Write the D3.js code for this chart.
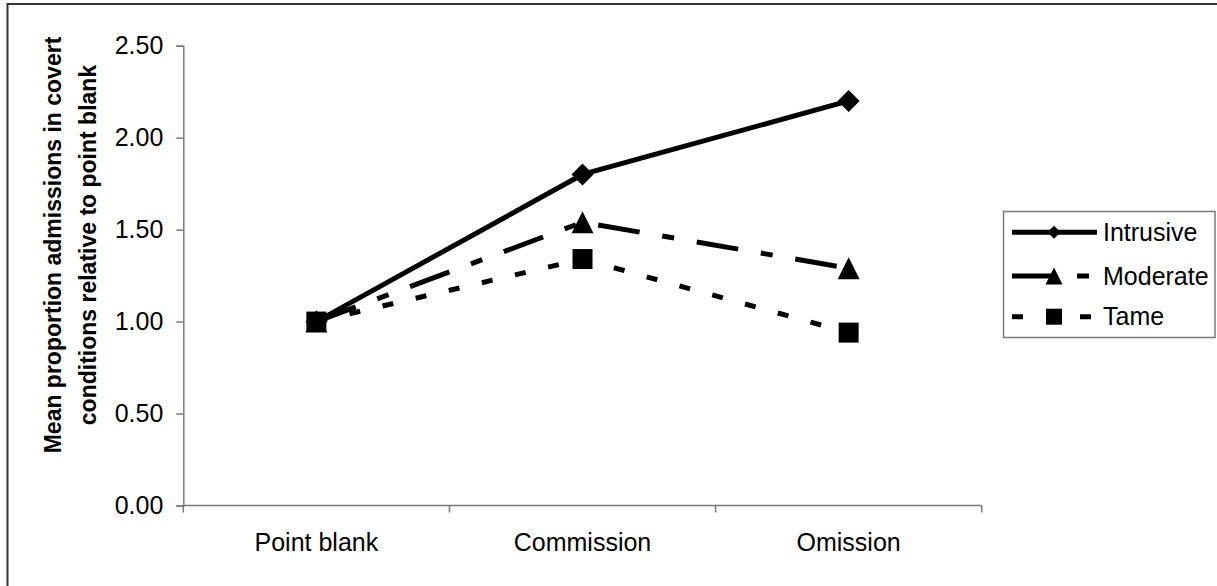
<!DOCTYPE html>
<html>
<head>
<meta charset="utf-8">
<script src="https://cdn.jsdelivr.net/npm/d3@7"></script>
<style>
  body { margin: 0; background: #fff; }
  svg text { font-family: "Liberation Sans", Arial, sans-serif; fill: #000; }
</style>
</head>
<body>
<svg id="chart" width="1217" height="586"></svg>
<script>
// Categories on the x axis
const categories = ["Point blank", "Commission", "Omission"];
// Series values (mean proportion of admissions, relative to point blank)
const intrusive = [1.00, 1.80, 2.20];
const moderate  = [1.00, 1.54, 1.29];
const tame      = [1.00, 1.34, 0.94];
const seriesNames = ["Intrusive", "Moderate", "Tame"];
// Y axis tick values
const yTicks = [0, 0.5, 1.0, 1.5, 2.0, 2.5];
const yTitleLines = ["Mean proportion admissions in covert", "conditions relative to point blank"];

const series = [
  { name: seriesNames[0], values: intrusive, dash: null,          marker: "diamond",  size: 22, legendSize: 13 },
  { name: seriesNames[1], values: moderate,  dash: "42 23 12 23", marker: "triangle", size: 22, legendSize: 17 },
  { name: seriesNames[2], values: tame,      dash: "11 23",       marker: "square",   size: 20, legendSize: 16 }
];

const svg = d3.select("#chart");
const plot = { left: 183.3, right: 981.7, top: 45.7, bottom: 505.5 };

const x = d3.scaleBand().domain(categories).range([plot.left, plot.right]).padding(0);
const y = d3.scaleLinear().domain([0, 2.5]).range([plot.bottom, plot.top]);
const cx = d => x(d) + x.bandwidth() / 2;

// Outer frame (runs past the right and bottom edges)
svg.append("rect")
  .attr("x", 7.5).attr("y", 4).attr("width", 1400).attr("height", 800)
  .attr("fill", "none").attr("stroke", "#333").attr("stroke-width", 2);

// Y axis
const yAxis = svg.append("g")
  .attr("transform", `translate(${plot.left},0)`)
  .call(d3.axisLeft(y).tickValues(yTicks).tickFormat(d3.format(".2f")).tickSize(7).tickPadding(13));
yAxis.select(".domain").attr("stroke", "#7a7a7a").attr("stroke-width", 1.5);
yAxis.selectAll(".tick line").attr("stroke", "#7a7a7a").attr("stroke-width", 1.5);
yAxis.selectAll(".tick text").style("font-size", "25px").attr("fill", "#000");

// X axis: line, tick marks between categories, centred labels
const xAxis = svg.append("g");
xAxis.append("line")
  .attr("x1", plot.left).attr("x2", plot.right)
  .attr("y1", plot.bottom).attr("y2", plot.bottom)
  .attr("stroke", "#7a7a7a").attr("stroke-width", 1.5);
const edges = categories.map(c => x(c)).concat([x(categories[categories.length - 1]) + x.bandwidth()]);
xAxis.selectAll("line.tick").data(edges).join("line")
  .attr("class", "tick")
  .attr("x1", d => d).attr("x2", d => d)
  .attr("y1", plot.bottom).attr("y2", plot.bottom + 7)
  .attr("stroke", "#7a7a7a").attr("stroke-width", 1.5);
xAxis.selectAll("text").data(categories).join("text")
  .attr("x", d => cx(d)).attr("y", plot.bottom + 45.5)
  .attr("text-anchor", "middle")
  .style("font-size", "25px")
  .text(d => d);

// Y axis title
const yTitle = svg.append("text")
  .attr("transform", "translate(0,245) rotate(-90)")
  .attr("text-anchor", "middle")
  .style("font-size", "23px").style("font-weight", "bold");
yTitle.selectAll("tspan").data(yTitleLines).join("tspan")
  .attr("x", 0).attr("y", (d, i) => i === 0 ? 61 : 96)
  .text(d => d);

// Marker shapes
function markerPath(type, s) {
  const h = s / 2;
  if (type === "diamond") return `M0,${-h}L${h},0L0,${h}L${-h},0Z`;
  if (type === "triangle") return `M0,${-h}L${h},${h}L${-h},${h}Z`;
  return `M${-h},${-h}H${h}V${h}H${-h}Z`;
}

const line = d3.line().x((d, i) => cx(categories[i])).y(d => y(d));

// Lines (drawn in reverse so Intrusive sits on top)
const g = svg.append("g");
[...series].reverse().forEach(s => {
  g.append("path")
    .datum(s.values)
    .attr("d", line)
    .attr("fill", "none")
    .attr("stroke", "#000")
    .attr("stroke-width", 5)
    .attr("stroke-dasharray", s.dash);
  g.selectAll(null).data(s.values).join("path")
    .attr("transform", (d, i) => `translate(${cx(categories[i])},${y(d)})`)
    .attr("d", markerPath(s.marker, s.size))
    .attr("fill", "#000");
});

// Legend
const legend = svg.append("g");
legend.append("rect")
  .attr("x", 1003.5).attr("y", 211.5).attr("width", 211.5).attr("height", 126)
  .attr("fill", "#fff").attr("stroke", "#7a7a7a").attr("stroke-width", 1.5);
const legendY = [232.3, 276, 316.7];
series.forEach((s, i) => {
  const ly = legendY[i];
  legend.append("line")
    .attr("x1", 1012).attr("x2", 1097).attr("y1", ly).attr("y2", ly)
    .attr("stroke", "#000").attr("stroke-width", 5)
    .attr("stroke-dasharray", s.dash);
  legend.append("path")
    .attr("transform", `translate(1054,${ly})`)
    .attr("d", markerPath(s.marker, s.legendSize))
    .attr("fill", "#000");
  legend.append("text")
    .attr("x", 1103).attr("y", ly).attr("dy", "0.35em")
    .style("font-size", "25px")
    .text(s.name);
});
</script>
</body>
</html>
